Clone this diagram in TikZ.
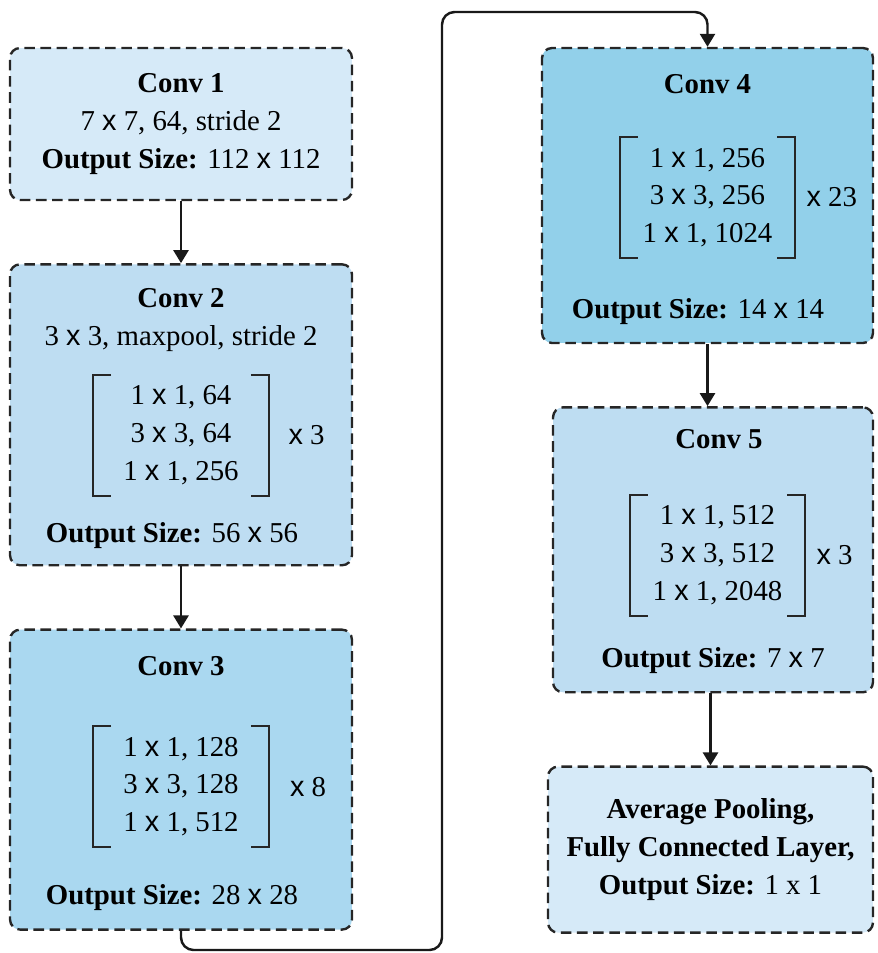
\documentclass[tikz,border=0pt]{standalone}
\usepackage{fontspec}
\setmainfont{Liberation Serif}
\newfontfamily\arialx{Liberation Sans}
\usepackage{xcolor}
\usepackage{tikz}
\usetikzlibrary{arrows.meta,positioning}

\newcommand{\mx}{{\arialx x}}

\definecolor{paleblue}{RGB}{214,234,248}
\definecolor{softblue}{RGB}{190,221,242}
\definecolor{midblue}{RGB}{170,216,240}
\definecolor{deepblue}{RGB}{146,208,234}

\begin{document}
\begin{tikzpicture}[
  x=0.02cm, y=-0.02cm,
  font=\fontsize{16.4}{21.5}\selectfont,
  node distance=1.24cm,
  stage/.style={rectangle, draw=black!85, dash pattern=on 6pt off 3.2pt, line width=1.35pt, rounded corners=2mm, minimum width=6.84cm, align=center, inner sep=0pt},
  blockmat/.style={minimum width=3.5cm, minimum height=2.4cm, align=center, inner sep=0pt},
  brk/.style={line width=1pt, black!85},
  arr/.style={-{Triangle[length=2.6mm, width=3mm]}, line width=1.4pt, black!90}
]
\useasboundingbox (0,0) rectangle (878,953);

% left column
\node[stage, fill=paleblue, minimum height=3.04cm] (conv1) at (181,124)
  {\textbf{Conv 1}\\7 \mx{} 7, 64, stride 2\\\textbf{Output Size:} 112 \mx{} 112};
\node[stage, fill=softblue, minimum height=6.02cm, below=of conv1] (conv2) {};
\node[stage, fill=midblue, minimum height=6cm, below=of conv2] (conv3) {};

% right column
\node[stage, fill=deepblue, minimum width=6.62cm, minimum height=5.9cm] (conv4) at (707.5,195.5) {};
\node[stage, fill=softblue, minimum width=6.4cm, minimum height=5.7cm, below=of conv4, xshift=0.11cm] (conv5) {};
\node[stage, fill=paleblue, minimum width=6.5cm, minimum height=3.32cm, below=1.44cm of conv5, xshift=-0.05cm] (fc)
  {\textbf{Average Pooling,}\\\textbf{Fully Connected Layer,}\\\textbf{Output Size:} 1 x 1};

% conv 2
\node (c2title) at ([yshift=-0.7cm]conv2.north) {\textbf{Conv 2}};
\node (c2pool) at ([yshift=-1.5cm]conv2.north) {3 \mx{} 3, maxpool, stride 2};
\node[blockmat] (m2) at ([yshift=-0.41cm]conv2.center) {1 \mx{} 1, 64\\3 \mx{} 3, 64\\1 \mx{} 1, 256};
\node[right=0.27cm of m2] (r2) {\mx{} 3};
\node (c2out) at ([yshift=0.62cm, xshift=-0.18cm]conv2.south) {\textbf{Output Size:} 56 \mx{} 56};

% conv 3
\node (c3title) at ([yshift=-0.76cm]conv3.north) {\textbf{Conv 3}};
\node[blockmat] (m3) at ([yshift=-0.14cm]conv3.center) {1 \mx{} 1, 128\\3 \mx{} 3, 128\\1 \mx{} 1, 512};
\node[right=0.3cm of m3] (r3) {\mx{} 8};
\node (c3out) at ([yshift=0.66cm, xshift=-0.18cm]conv3.south) {\textbf{Output Size:} 28 \mx{} 28};

% conv 4
\node (c4title) at ([yshift=-0.74cm]conv4.north) {\textbf{Conv 4}};
\node[blockmat] (m4) at ([yshift=-0.04cm]conv4.center) {1 \mx{} 1, 256\\3 \mx{} 3, 256\\1 \mx{} 1, 1024};
\node[right=0.1cm of m4] (r4) {\mx{} 23};
\node (c4out) at ([yshift=0.66cm, xshift=-0.19cm]conv4.south) {\textbf{Output Size:} 14 \mx{} 14};

% conv 5
\node (c5title) at ([yshift=-0.66cm, xshift=0.12cm]conv5.north) {\textbf{Conv 5}};
\node[blockmat] (m5) at ([yshift=-0.11cm, xshift=0.09cm]conv5.center) {1 \mx{} 1, 512\\3 \mx{} 3, 512\\1 \mx{} 1, 2048};
\node[right=0.1cm of m5] (r5) {\mx{} 3};
\node (c5out) at ([yshift=0.66cm]conv5.south) {\textbf{Output Size:} 7 \mx{} 7};

% brackets
\foreach \m in {m2,m3,m4,m5} {
  \draw[brk] ([xshift=0.36cm]\m.north west) -| (\m.south west) -- ++(18,0);
  \draw[brk] ([xshift=-0.36cm]\m.north east) -| (\m.south east) -- ++(-18,0);
}

% connectors
\coordinate (lowturn) at (442,950);
\coordinate (highturn) at (442,12);
\draw[arr] (conv1) -- (conv2);
\draw[arr] (conv2) -- (conv3);
\draw[arr, rounded corners=2.5mm] (conv3.south) |- (lowturn) -- (highturn) -| (conv4.north);
\draw[arr] (conv4.south) -- (conv4.south |- conv5.north);
\draw[arr] (fc.north |- conv5.south) -- (fc.north);
\end{tikzpicture}
\end{document}
